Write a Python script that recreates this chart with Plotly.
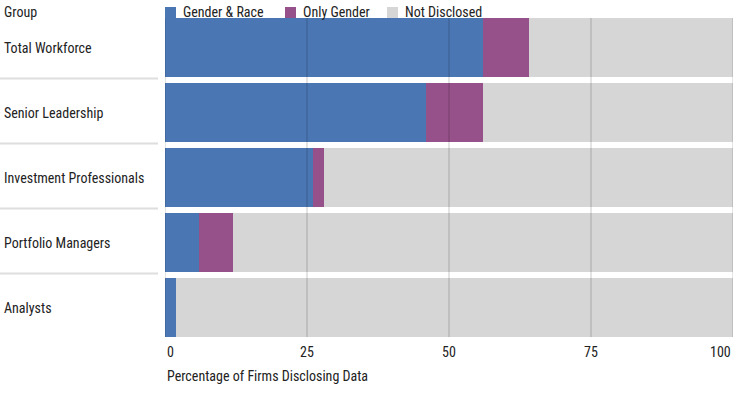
import plotly.graph_objects as go

# ---- data ----
groups = ["Total Workforce", "Senior Leadership", "Investment Professionals",
          "Portfolio Managers", "Analysts"]
series_names = ["Gender & Race", "Only Gender", "Not Disclosed"]
gender_race = [56, 46, 26, 6, 2]
only_gender = [8, 10, 2, 6, 0]
not_disclosed = [36, 44, 72, 88, 98]
tick_vals = [0, 25, 50, 75, 100]
tick_text = ["0", "25", "50", "75", "100"]
header_text = "Group"
x_title = "Percentage of Firms Disclosing Data"

# ---- style ----
colors = ["#4A77B4", "#96518A", "#D6D6D6"]
FONT = "Liberation Sans Narrow, Roboto Condensed, Arial Narrow, Roboto, sans-serif"
TXT = "#222222"
W, H = 736, 394
ML, MR, MT, MB = 165, 3, 15, 54
PW, PH = W - ML - MR, H - MT - MB
BARGAP = 0.09


def px_x(px):
    return (px - ML) / PW


def px_y(py):
    return (H - MB - py) / PH


fig = go.Figure()
for name, vals, col in zip(series_names, [gender_race, only_gender, not_disclosed], colors):
    fig.add_trace(go.Bar(y=groups, x=vals, name=name, orientation="h",
                         marker=dict(color=col, line=dict(width=0)),
                         hoverinfo="x+name"))

shapes = []
annotations = []

# gridlines drawn over bars
for v in tick_vals:
    shapes.append(dict(type="line", xref="x", yref="y", x0=v, x1=v,
                       y0=-0.5 + BARGAP / 2, y1=len(groups) - 0.5 - BARGAP / 2,
                       line=dict(color="rgba(0,0,0,0.14)", width=1.5), layer="above"))

# separators under labels
for i in range(len(groups) - 1):
    shapes.append(dict(type="line", xref="paper", yref="y", x0=px_x(0), x1=px_x(158),
                       y0=i + 0.5 - 0.025, y1=i + 0.5 - 0.025,
                       line=dict(color="#DEDEDE", width=2)))

# group labels
for g in groups:
    annotations.append(dict(text=g, xref="paper", yref="y", x=px_x(2), y=g,
                            xanchor="left", yanchor="middle", showarrow=False,
                            font=dict(family=FONT, size=14, color=TXT)))
annotations.append(dict(text=header_text, xref="paper", yref="paper", x=px_x(2), y=px_y(12),
                        xanchor="left", yanchor="middle", showarrow=False,
                        font=dict(family=FONT, size=14, color=TXT)))

# tick labels
for j, (v, t) in enumerate(zip(tick_vals, tick_text)):
    anchor = "left" if j == 0 else ("right" if j == len(tick_vals) - 1 else "center")
    annotations.append(dict(text=t, xref="x", yref="paper", x=v, y=px_y(352),
                            xanchor=anchor, yanchor="middle", showarrow=False,
                            font=dict(family=FONT, size=14, color=TXT)))
annotations.append(dict(text=x_title, xref="paper", yref="paper", x=0, y=px_y(376),
                        xanchor="left", yanchor="middle", showarrow=False,
                        font=dict(family=FONT, size=14, color=TXT)))

# custom legend
legend_x = [165, 285, 387]
for name, col, lx in zip(series_names, colors, legend_x):
    shapes.append(dict(type="rect", xref="paper", yref="paper",
                       x0=px_x(lx), x1=px_x(lx + 11), y0=px_y(18), y1=px_y(7),
                       fillcolor=col, line=dict(width=0)))
    annotations.append(dict(text=name, xref="paper", yref="paper", x=px_x(lx + 16), y=px_y(12),
                            xanchor="left", yanchor="middle", showarrow=False,
                            font=dict(family=FONT, size=14, color=TXT)))

fig.update_layout(
    width=W, height=H, barmode="stack", bargap=BARGAP,
    margin=dict(l=ML, r=MR, t=MT, b=MB),
    paper_bgcolor="white", plot_bgcolor="white",
    showlegend=False,
    xaxis=dict(range=[0, 100], showgrid=False, zeroline=False, showticklabels=False,
               fixedrange=True),
    yaxis=dict(autorange="reversed", showticklabels=False, showgrid=False, zeroline=False,
               fixedrange=True),
    shapes=shapes, annotations=annotations,
    font=dict(family=FONT, size=14, color=TXT),
)

fig.write_html("out.html", config={"displayModeBar": False},
               post_script="document.body.style.margin='0';document.body.style.overflow='hidden';")
